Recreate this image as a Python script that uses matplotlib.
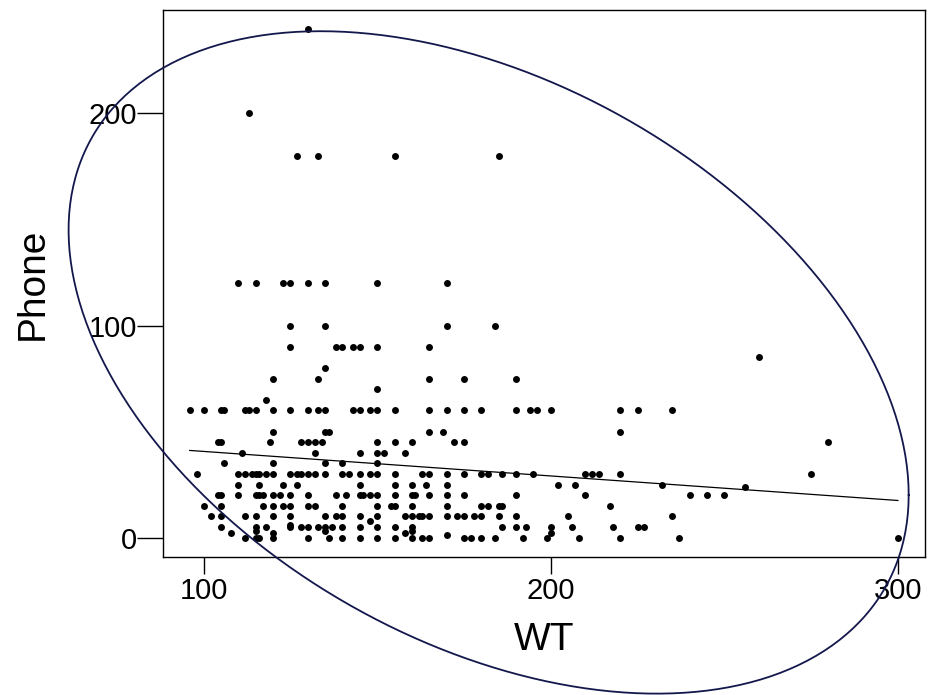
import numpy as np
import matplotlib
matplotlib.use("Agg")
import matplotlib.pyplot as plt

plt.rcParams['font.family'] = ['Liberation Sans', 'DejaVu Sans']

# Phone values (rows) and the WT values observed at each row
rows = {
    240: [130],
    200: [113],
    180: [127, 133, 155, 185],
    120: [110, 115, 123, 125, 130, 135, 150, 170],
    100: [125, 135, 170, 184],
    90: [125, 138, 140, 143, 145, 150, 165],
    85: [260],
    80: [135],
    75: [120, 133, 165, 175, 190],
    70: [150],
    65: [118],
    60: [96, 100, 105, 106, 112, 113, 115, 120, 125, 130, 133, 135, 143, 145,
         148, 150, 155, 165, 170, 175, 180, 190, 194, 196, 200, 220, 225, 235],
    50: [120, 135, 136, 165, 169, 220],
    45: [104, 105, 119, 128, 130, 132, 134, 150, 155, 160, 172, 175, 280],
    40: [111, 132, 145, 150, 152, 158],
    35: [106, 120, 135, 140, 150],
    30: [98, 110, 112, 114, 115, 116, 118, 120, 125, 127, 128, 130, 132, 135,
         140, 142, 145, 148, 150, 155, 163, 165, 170, 175, 180, 182, 186, 190,
         195, 210, 212, 214, 220, 275],
    25: [110, 116, 123, 127, 145, 155, 160, 164, 170, 202, 207, 232],
    24: [256],
    20: [104, 105, 110, 115, 116, 117, 120, 122, 125, 130, 138, 141, 145, 146,
         148, 150, 155, 160, 161, 165, 170, 175, 190, 210, 240, 245, 250],
    15: [100, 105, 117, 120, 123, 125, 130, 132, 140, 150, 154, 155, 160, 170,
         180, 182, 185, 186, 217],
    10: [102, 105, 112, 115, 120, 125, 135, 138, 140, 145, 150, 158, 160, 162,
         163, 165, 170, 173, 175, 178, 180, 185, 190, 205, 235],
    8: [148],
    6: [125],
    5: [105, 115, 118, 125, 128, 130, 133, 135, 137, 140, 145, 150, 155, 160,
        186, 190, 193, 200, 206, 218, 225, 227],
    3: [115, 135, 160],
    2: [108, 120, 158, 200],
    1: [170],
    0: [112, 115, 116, 120, 130, 136, 140, 145, 150, 155, 160, 163, 165, 175,
        177, 180, 184, 192, 199, 208, 220, 237, 300],
}
wt = np.array([x for y, xs in rows.items() for x in xs], dtype=float)
phone = np.array([y for y, xs in rows.items() for x in xs], dtype=float)

# regression line coefficients
intercept = 52.2
slope = -0.1157

# ellipse parameters (data units)
ell_center = (182.1, 82.6)
ell_sx = 121.0
ell_sy = 156.2
ell_rho = -0.40

xticks = [100, 200, 300]
yticks = [0, 100, 200]

fig = plt.figure(figsize=(9.35, 6.95), dpi=100)
ax = fig.add_axes([0.1747, 0.1986, 0.8146, 0.787])

ax.plot(wt, phone, 'o', color='black', ms=5.0, mew=0, zorder=3)

xl = np.array([wt.min(), wt.max()])
ax.plot(xl, intercept + slope * xl, color='black', lw=0.9, zorder=2)

t = np.linspace(0, 2 * np.pi, 400)
ex = ell_center[0] + ell_sx * np.cos(t)
ey = ell_center[1] + ell_sy * (ell_rho * np.cos(t) + np.sqrt(1 - ell_rho ** 2) * np.sin(t))
ax.plot(ex, ey, color='#13174c', lw=1.3, clip_on=False, zorder=4)

ax.set_xlim(88.4, 307.8)
ax.set_ylim(-9.15, 248.8)
ax.set_xticks(xticks)
ax.set_yticks(yticks)
ax.set_xticklabels([str(v) for v in xticks])
ax.set_yticklabels([str(v) for v in yticks])
ax.tick_params(axis='x', length=12.2, width=1.0, pad=2.5, labelsize=21, direction='out')
ax.tick_params(axis='y', length=18.7, width=1.0, pad=0.5, labelsize=21, direction='out')
for s in ax.spines.values():
    s.set_linewidth(1.0)

ax.set_xlabel('WT', fontsize=28, va='baseline')
ax.xaxis.set_label_coords(0.5, -0.170)
ax.set_ylabel('Phone', fontsize=28, va='baseline')
ax.yaxis.set_label_coords(-0.158, 0.5)

fig.savefig('out.png', dpi=100)
